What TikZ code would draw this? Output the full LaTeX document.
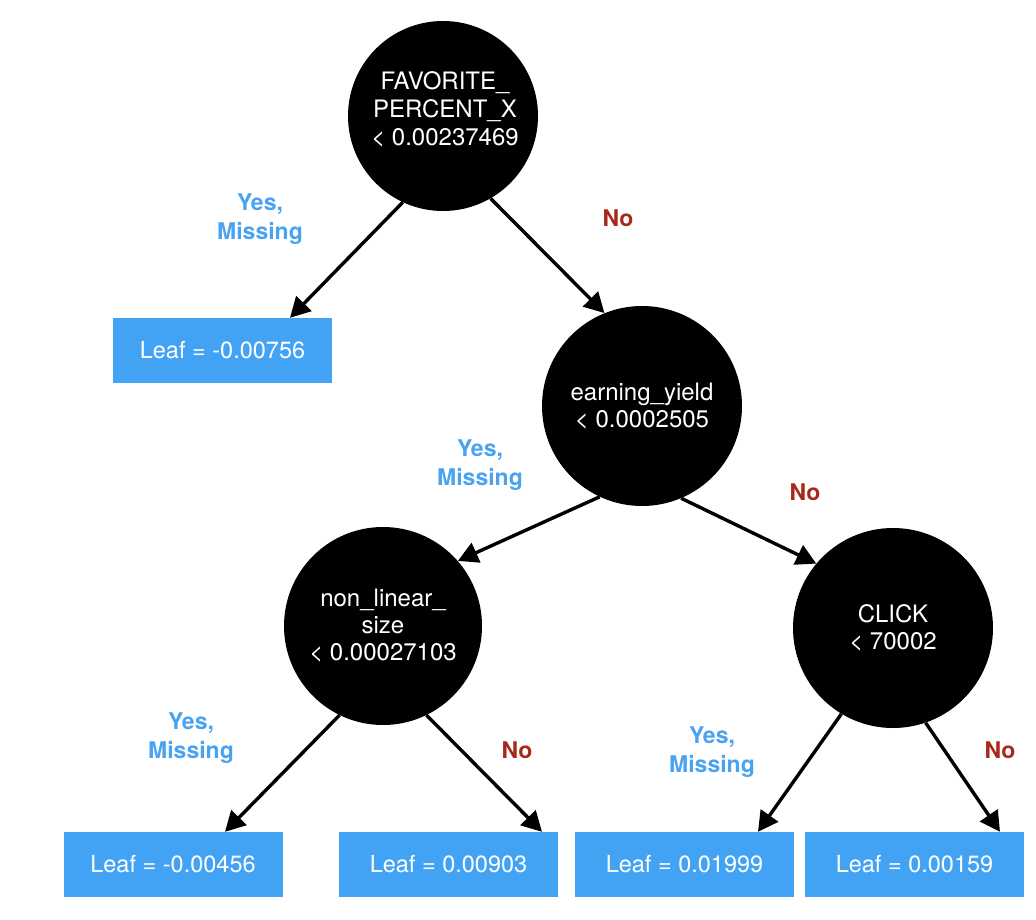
\documentclass[tikz,border=0pt]{standalone}
\usepackage{fontspec}
\setmainfont{TeX Gyre Heros}
\usepackage{tikz}
\usetikzlibrary{arrows.meta, shapes}

\definecolor{leafblue}{RGB}{66,163,245}
\definecolor{yesblue}{RGB}{74,163,240}
\definecolor{nored}{RGB}{168,40,26}

\begin{document}
\begin{tikzpicture}[x=1pt, y=-1pt,
	split/.style={circle, fill=black, text=white, align=center, inner sep=0pt, font=\fontsize{24}{27}\selectfont},
	leaf/.style={rectangle, fill=leafblue, text=white, minimum width=219pt, minimum height=65pt, inner sep=0pt, font=\fontsize{23.5}{28}\selectfont},
	yes/.style={text=yesblue, align=center, font=\bfseries\fontsize{23}{29}\selectfont},
	no/.style={text=nored, font=\bfseries\fontsize{23}{29}\selectfont},
	edge/.style={line width=3.4pt, -{Triangle[length=20pt,width=21pt]}}]
	\def\W{1036}
	\def\H{920}
	\def\lh{864.5}

	\useasboundingbox[fill=white] (0,0) rectangle (\W,\H);

	% split nodes
	\node[split, minimum size=190pt] (root) at (443,116) {};
	\node[text=white, align=center, inner sep=0pt, font=\fontsize{24}{28}\selectfont] (rootText) at (445,109) {FAVORITE\_\\PERCENT\_X\\< 0.00237469};
	\node[split, minimum size=200pt] (earn) at (642,406) {earning\_yield\\< 0.0002505};
	\node[split, minimum size=198pt] (nonlin) at (383,626) {non\_linear\_\\size\\< 0.00027103};
	\node[split, minimum size=200pt] (click) at (893,628) {CLICK\\< 70002};

	% leaves
	\node[leaf] (leafA) at (222.5,350.5) {Leaf = -0.00756};
	\node[leaf] (leafB) at (173,\lh) {Leaf = -0.00456};
	\node[leaf] (leafC) at (448.5,\lh) {Leaf = 0.00903};
	\node[leaf] (leafD) at (684.5,\lh) {Leaf = 0.01999};
	\node[leaf] (leafE) at (914.5,\lh) {Leaf = 0.00159};

	% branches
	\draw[edge] (root.-115) -- ([xshift=67.5pt]leafA.north);
	\draw[edge] (root.-60) -- (earn.112);
	\draw[edge] (earn.-115) -- (nonlin.41);
	\draw[edge] (earn.-67) -- (click.140);
	\draw[edge] (nonlin.-116) -- ([xshift=52pt]leafB.north);
	\draw[edge] (nonlin.-64) -- ([xshift=93.5pt]leafC.north);
	\draw[edge] (click.-121) -- ([xshift=73.5pt]leafD.north);
	\draw[edge] (click.-71) -- ([xshift=85.5pt]leafE.north);

	% branch labels
	\node[yes] (yesA) at (260,219) {Yes,\\Missing};
	\node[no] (noA) at (618,218) {No};
	\node[yes] (yesB) at (480,465) {Yes,\\Missing};
	\node[no] (noB) at (805,492) {No};
	\node[yes] (yesC) at (191,738) {Yes,\\Missing};
	\node[no] (noC) at (517,750) {No};
	\node[yes] (yesD) at (712,752) {Yes,\\Missing};
	\node[no] (noD) at (1000,750) {No};
\end{tikzpicture}
\end{document}
